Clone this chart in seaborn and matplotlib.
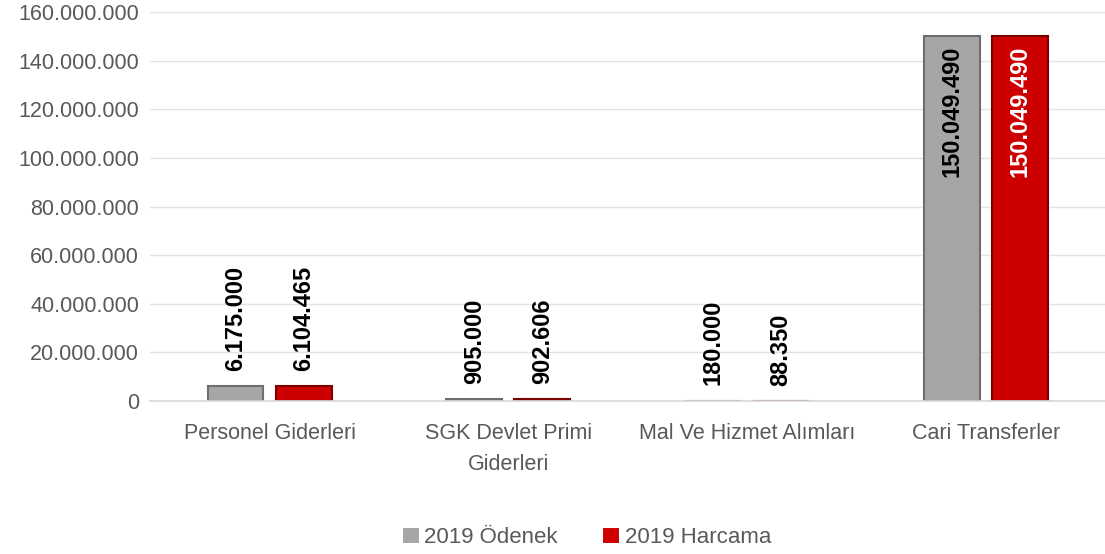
import numpy as np
import pandas as pd
import seaborn as sns
import matplotlib.pyplot as plt

categories = ["Personel Giderleri", "SGK Devlet Primi\nGiderleri",
              "Mal Ve Hizmet Alımları", "Cari Transferler"]
odenek = [6175000, 905000, 180000, 150049490]
harcama = [6104465, 902606, 88350, 150049490]
series = ["2019 Ödenek", "2019 Harcama"]
yticks = np.arange(0, 160000001, 20000000)

df = pd.DataFrame({
    "kategori": categories * 2,
    "seri": [series[0]] * 4 + [series[1]] * 4,
    "deger": odenek + harcama,
})

sns.set_theme(style="white")
plt.rcParams['font.family'] = ['Liberation Sans', 'DejaVu Sans']

fig, ax = plt.subplots(figsize=(11.05, 5.54), dpi=100)
fig.subplots_adjust(left=0.136, right=1.0, top=0.978, bottom=0.276)

renk = {series[0]: "#a6a6a6", series[1]: "#cc0000"}
kenar = ["#6e6e6e", "#7a0000"]
sns.barplot(data=df, x="kategori", y="deger", hue="seri", order=categories,
            hue_order=series, palette=renk, width=0.57, gap=0.18,
            saturation=1, linewidth=1.5, ax=ax)

for i, c in enumerate(ax.containers):
    for bar in c:
        bar.set_edgecolor(kenar[i])
        h = bar.get_height()
        xc = bar.get_x() + bar.get_width() / 2
        lab = f"{int(h):,}".replace(",", ".")
        if h > 100000000:
            ax.annotate(lab, (xc, h), xytext=(0, -7), textcoords="offset points",
                        rotation=90, ha="center", va="top", fontsize=17,
                        fontweight="bold", color="white" if i == 1 else "black")
        else:
            ax.annotate(lab, (xc, h), xytext=(0, 11), textcoords="offset points",
                        rotation=90, ha="center", va="bottom", fontsize=17,
                        fontweight="bold", color="black")

ax.set_ylim(0, 160000000)
ax.set_xlim(-0.5, 3.5)
ax.set_yticks(yticks)
ax.set_yticklabels([f"{v:,}".replace(",", ".") for v in yticks])
for t in ax.get_xticklabels():
    t.set_linespacing(1.6)
ax.yaxis.grid(True, color="#e3e3e3", linewidth=1)
ax.set_axisbelow(True)
ax.tick_params(axis="y", length=0, labelsize=15.5, labelcolor="#595959", pad=8)
ax.tick_params(axis="x", length=0, labelsize=15.5, labelcolor="#595959", pad=16)
ax.set_xlabel("")
ax.set_ylabel("")
sns.despine(ax=ax, left=True, top=True, right=True)
ax.spines["bottom"].set_color("#d9d9d9")

leg = ax.legend(loc="center", bbox_to_anchor=(0.457, -0.35), ncol=2,
                frameon=False, fontsize=16, handlelength=0.8, handleheight=0.8,
                handletextpad=0.2, columnspacing=2.0)
for t in leg.get_texts():
    t.set_color("#595959")

plt.savefig("out.png", dpi=100)
